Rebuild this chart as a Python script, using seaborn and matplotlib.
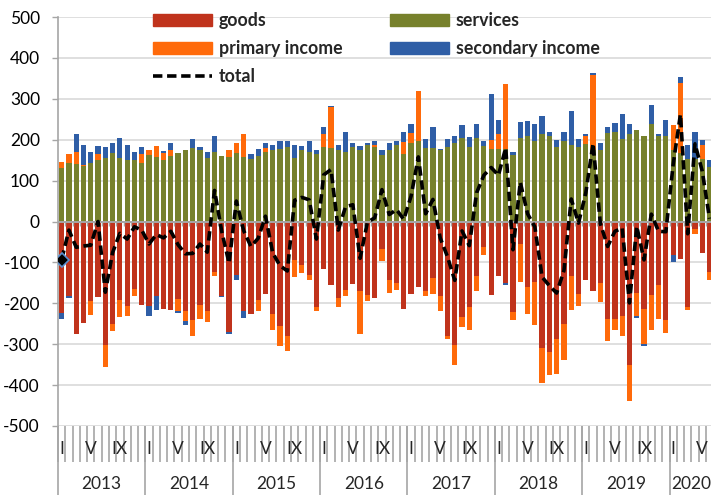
import numpy as np
import pandas as pd
import matplotlib
matplotlib.use("Agg")
import matplotlib.pyplot as plt
import seaborn as sns
from matplotlib.patches import Patch
from matplotlib.lines import Line2D

# monthly data, Jan 2013 .. Jun 2020
years = ["2013", "2014", "2015", "2016", "2017", "2018", "2019", "2020"]
month_labels = {0: "I", 4: "V", 8: "IX"}

goods = [-224, -183, -276, -248, -195, -185, -303, -250, -193, -206, -165, -204,
         -206, -183, -213, -217, -190, -219, -242, -205, -219, -124, -183, -271,
         -132, -218, -226, -192, -178, -226, -255, -279, -93, -106, -132, -208,
         -117, -156, -187, -167, -152, -171, -179, -187, -68, -142, -151, -214,
         -177, -159, -169, -139, -182, -279, -301, -234, -209, -134, -63, -180,
         -134, -151, -222, -55, -160, -147, -310, -319, -287, -250, -134, -178,
         -144, -171, -151, -238, -238, -230, -350, -175, -214, -179, -155, -242,
         -81, -91, -209, -18, -77, -124]
services = [130, 143, 140, 135, 142, 151, 156, 167, 156, 151, 151, 143,
            162, 158, 151, 161, 167, 174, 180, 175, 156, 170, 160, 157,
            167, 157, 152, 161, 170, 174, 178, 182, 156, 176, 169, 165,
            183, 179, 174, 170, 181, 175, 188, 182, 162, 176, 188, 165,
            192, 196, 180, 180, 175, 183, 191, 205, 183, 205, 185, 178,
            177, 178, 162, 204, 208, 196, 214, 208, 182, 196, 186, 182,
            190, 175, 175, 217, 218, 202, 214, 224, 210, 239, 208, 208,
            174, 167, 152, 152, 153, 133]
primary_income = [16, 22, 31, 2, -33, 14, -52, -18, -41, -25, -18, 23,
                  13, 26, 16, 15, -28, -25, -38, -33, -27, -9, 0, 17,
                  26, 57, 0, -26, 10, -39, -49, -38, -43, -20, -11, -11,
                  32, 101, -21, -15, 0, -104, -16, 5, -29, -33, -16, 29,
                  24, 123, -14, -38, -36, -9, -51, -24, -57, -35, -20, 22,
                  37, 157, -18, -93, -66, -105, -84, -56, -87, -88, -82, -28,
                  20, 182, -46, -55, -27, -49, -88, -57, -85, -87, -83, -31,
                  63, 171, -7, -12, 35, -20]
secondary_income = [-15, -3, 42, 51, 28, 20, 26, 25, 49, 37, 19, 17,
                    -24, -33, 6, 17, -6, -9, 22, 8, 15, 39, -2, -5,
                    -11, -18, 13, 16, 11, 14, 18, 14, 32, 9, 27, 11,
                    16, 3, 13, 48, 12, 10, 5, 9, 13, 16, 8, 25,
                    23, -2, 22, 51, 3, 19, 17, 30, 24, 34, 11, 112,
                    33, -4, 9, 40, 37, 43, 44, 10, 17, 22, 85, 20,
                    4, 5, 17, 15, 23, 61, 25, -4, -5, 45, 6, 40,
                    -17, 15, 34, 68, 12, 18]
total = [-93, -21, -63, -60, -58, 0, -173, -76, -29, -43, -13, -21,
         -55, -32, -40, -24, -57, -79, -78, -55, -75, 76, -25, -102,
         50, -22, -61, -41, 13, -77, -108, -121, 52, 59, 53, -43,
         114, 127, -21, 36, 41, -90, -2, 9, 78, 17, 29, 5,
         62, 158, 19, 54, -40, -86, -144, -23, -59, 70, 113, 132,
         113, 180, -69, 96, 19, -13, -136, -157, -175, -120, 55, -4,
         70, 191, -5, -61, -24, -16, -199, -12, -94, 18, -24, -25,
         139, 262, -30, 190, 123, 7]

colors = {
    "goods": "#C0331C",
    "services": "#77812C",
    "primary income": "#FF6A0A",
    "secondary income": "#2F5EA6",
}

df = pd.DataFrame({
    "month": np.arange(len(goods)),
    "goods": goods,
    "services": services,
    "primary income": primary_income,
    "secondary income": secondary_income,
    "total": total,
})

# excel-style stacking: positives on top of services, negatives below goods
prim = df["primary income"]
pos_base = df["services"] + prim.clip(lower=0)
neg_base = df["goods"] + prim.clip(upper=0)
bottoms = {
    "goods": 0,
    "services": 0,
    "primary income": np.where(prim >= 0, df["services"], df["goods"]),
    "secondary income": np.where(df["secondary income"] >= 0, pos_base, neg_base),
}

sns.set_style("white")
plt.rcParams["font.family"] = ["Lato", "DejaVu Sans"]
plt.rcParams["axes.unicode_minus"] = False

fig = plt.figure(figsize=(7.11, 4.95), dpi=100)
ax = fig.add_axes([58 / 711, 1 - 426 / 495, (711 - 58) / 711, (426 - 17) / 495])

for name in ["goods", "services", "primary income", "secondary income"]:
    sns.barplot(data=df, x="month", y=name, color=colors[name], bottom=bottoms[name],
                width=0.72, saturation=1, errorbar=None, linewidth=0, ax=ax, zorder=2)

sns.lineplot(data=df, x="month", y="total", color="black", lw=2.6, ax=ax, zorder=5,
             marker="D", markevery=[0], markersize=7, markerfacecolor="black",
             markeredgecolor="#5B8FD0", markeredgewidth=1.2)
ax.lines[-1].set_dashes([2.6, 1.3])

ax.set_xlim(-0.5, 89.2)
ax.set_ylim(-500, 500)
ax.set_xticks([])
ax.set_xlabel("")
ax.set_ylabel("")
ax.set_yticks(range(-500, 501, 100))
ax.yaxis.grid(True, color="#d9d9d9", lw=1.2)
ax.set_axisbelow(True)
ax.tick_params(axis="y", left=True, length=4, width=1, color="#a6a6a6", pad=9,
               labelsize=12.5, labelcolor="black")
for side in ["top", "right", "bottom"]:
    ax.spines[side].set_visible(False)
ax.spines["left"].set_color("#a6a6a6")
ax.spines["left"].set_linewidth(1.2)

# category axis at zero with month ticks
n = len(goods)
bounds = np.arange(n + 1) - 0.5
ax.axhline(0, color="#a6a6a6", lw=1.4, zorder=3)
ax.vlines(bounds, -12, 0, color="#a6a6a6", lw=1, zorder=3)

# multi-level labels below the plot
tr = ax.get_xaxis_transform()
ax.vlines(bounds, -0.088, 0, transform=tr, color="#a6a6a6", lw=1.2, clip_on=False)
ax.vlines(np.arange(0, n + 1, 12) - 0.5, -0.2, 0, transform=tr, color="#a6a6a6",
          lw=1.2, clip_on=False)
for i in range(n):
    if i % 12 in month_labels:
        ax.text(i, -0.056, month_labels[i % 12], transform=tr, ha="center", va="center",
                fontsize=12.5, clip_on=False)
for j, yr in enumerate(years):
    first = j * 12
    last = min(first + 11, n - 1)
    ax.text((first + last) / 2, -0.142, yr, transform=tr, ha="center", va="center",
            fontsize=12.5, clip_on=False)

# legend in two columns, placed like the original
h1 = [Patch(color=colors["goods"]), Patch(color=colors["primary income"]),
      Line2D([], [], color="black", lw=2.6, dashes=[2.6, 1.3])]
h2 = [Patch(color=colors["services"]), Patch(color=colors["secondary income"])]
leg_kw = dict(loc="upper left", frameon=False, borderpad=0, borderaxespad=0,
              handlelength=3.3, handleheight=0.7, handletextpad=0.4,
              labelspacing=0.62, prop={"size": 12.8, "weight": "bold"})
fig.legend(h1, ["goods", "primary income", "total"],
           bbox_to_anchor=(153 / 711, 1 - 12 / 495), **leg_kw)
fig.legend(h2, ["services", "secondary income"],
           bbox_to_anchor=(390 / 711, 1 - 12 / 495), **leg_kw)

fig.savefig("out.png", dpi=100)
